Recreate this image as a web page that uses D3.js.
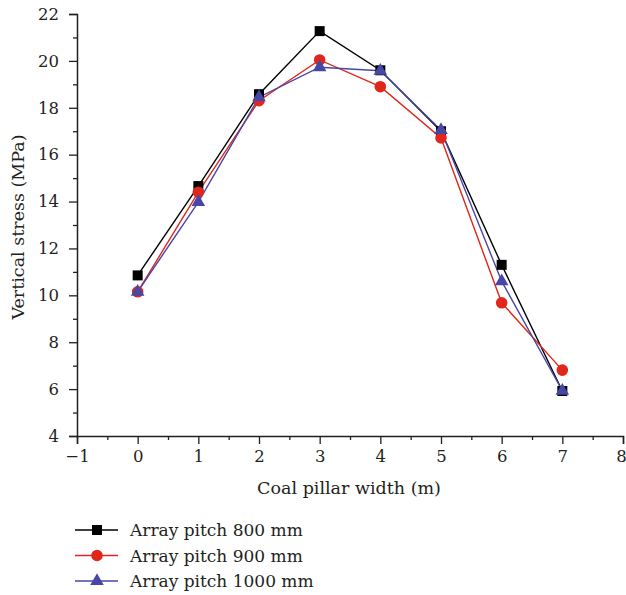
<!DOCTYPE html>
<html>
<head>
<meta charset="utf-8">
<script src="https://cdn.jsdelivr.net/npm/d3@7"></script>
<style>
  body { margin: 0; background: #fff; }
  svg { display: block; }
  svg text { font-family: "DejaVu Serif", "Liberation Serif", serif; fill: #231f20; }
</style>
</head>
<body>
<svg width="626" height="595"></svg>
<script>
const widths = [0, 1, 2, 3, 4, 5, 6, 7];
const pitch800 = [10.85, 14.66, 18.58, 21.27, 19.6, 17.0, 11.3, 5.92];
const pitch900 = [10.15, 14.4, 18.3, 20.04, 18.9, 16.71, 9.68, 6.81];
const pitch1000 = [10.15, 13.98, 18.45, 19.73, 19.58, 17.05, 10.6, 5.93];
const seriesNames = ['Array pitch 800 mm', 'Array pitch 900 mm', 'Array pitch 1000 mm'];
const xTicks = [-1, 0, 1, 2, 3, 4, 5, 6, 7, 8];
const yTicks = [4, 6, 8, 10, 12, 14, 16, 18, 20, 22];

const svg = d3.select('svg');

const margin = { top: 14, left: 77 };
const innerWidth = 546;
const innerHeight = 422;

const xScale = d3.scaleLinear().domain([-1, 8]).range([0, innerWidth]);
const yScale = d3.scaleLinear().domain([4, 22]).range([innerHeight, 0]);

const g = svg.append('g')
    .attr('transform', `translate(${margin.left}, ${margin.top})`);

// minor ticks halfway between the labelled ones
const xMinor = d3.range(-0.5, 8, 1);
const yMinor = d3.range(5, 22, 2);

const xa = g.append('g')
    .attr('transform', `translate(0, ${innerHeight})`)
    .call(d3.axisBottom(xScale).tickValues(xTicks).tickSize(8).tickPadding(6)
        .tickFormat(d => d < 0 ? '\u2212' + Math.abs(d) : d));
// last label sits on the right edge; nudge it in so it is not clipped
xa.selectAll('.tick text').filter(d => d === 8).attr('dx', -2);
const xm = g.append('g')
    .attr('transform', `translate(0, ${innerHeight})`)
    .call(d3.axisBottom(xScale).tickValues(xMinor).tickSize(4));
xm.select('.domain').remove();
xm.selectAll('text').remove();

g.append('g')
    .call(d3.axisLeft(yScale).tickValues(yTicks).tickSize(8).tickPadding(10));
const ym = g.append('g')
    .call(d3.axisLeft(yScale).tickValues(yMinor).tickSize(4));
ym.select('.domain').remove();
ym.selectAll('text').remove();

g.selectAll('.domain').attr('stroke', '#231f20').attr('stroke-width', 1.5);
g.selectAll('.tick line').attr('stroke', '#231f20').attr('stroke-width', 1.3);
g.selectAll('.tick text').attr('font-size', 16.5).attr('fill', '#231f20')
    .attr('font-family', '"DejaVu Serif", serif');

// axis titles
svg.append('text')
    .attr('x', 349)
    .attr('y', 494)
    .attr('text-anchor', 'middle')
    .attr('font-size', 17.5)
    .text('Coal pillar width (m)');

svg.append('text')
    .attr('transform', `translate(24, ${margin.top + innerHeight / 2 + 2}) rotate(-90)`)
    .attr('text-anchor', 'middle')
    .attr('font-size', 17.5)
    .text('Vertical stress (MPa)');

const series = [
    { name: seriesNames[0], values: pitch800, color: '#000000', shape: d3.symbolSquare, size: 100 },
    { name: seriesNames[1], values: pitch900, color: '#e1261c', shape: d3.symbolCircle, size: 105 },
    { name: seriesNames[2], values: pitch1000, color: '#4747a8', shape: d3.symbolTriangle, size: 80 }
];

const line = d3.line()
    .x((d, i) => xScale(widths[i]))
    .y(d => yScale(d));

series.forEach(s => {
    g.append('path')
        .datum(s.values)
        .attr('fill', 'none')
        .attr('stroke', s.color)
        .attr('stroke-width', 1.4)
        .attr('d', line);
});

series.forEach(s => {
    g.selectAll(null).data(s.values)
        .enter().append('path')
        .attr('transform', (d, i) => `translate(${xScale(widths[i])}, ${yScale(d)})`)
        .attr('d', d3.symbol().type(s.shape).size(s.size))
        .attr('fill', s.color);
});

// legend
const legend = svg.append('g');
series.forEach((s, i) => {
    const y = 530 + i * 25.5;
    legend.append('line')
        .attr('x1', 75).attr('x2', 118)
        .attr('y1', y).attr('y2', y)
        .attr('stroke', s.color).attr('stroke-width', 1.4);
    legend.append('path')
        .attr('transform', `translate(97, ${y})`)
        .attr('d', d3.symbol().type(s.shape).size(s.size))
        .attr('fill', s.color);
    legend.append('text')
        .attr('x', 130)
        .attr('y', y + 6)
        .attr('font-size', 17)
        .text(s.name);
});
</script>
</body>
</html>
